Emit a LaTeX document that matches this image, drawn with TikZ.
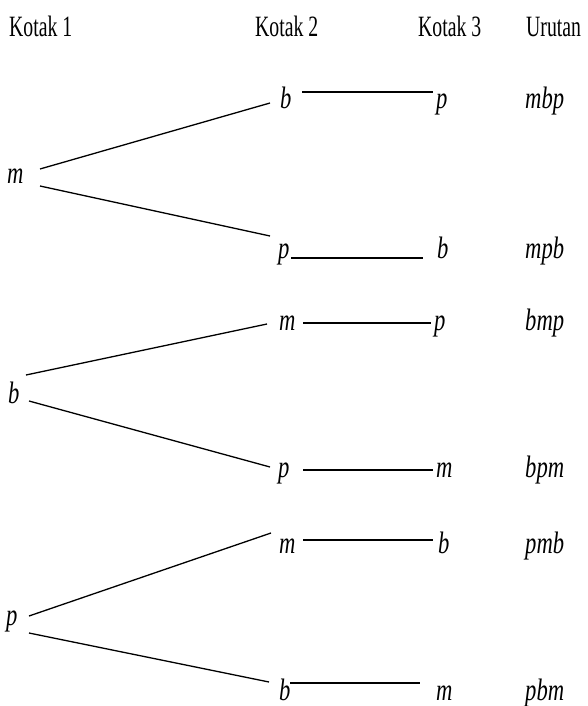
\documentclass[tikz,border=0pt]{standalone}
\usepackage{fontspec}
\setmainfont{Liberation Serif}[FakeStretch=0.67]
\newfontfamily\itfam{Liberation Serif}[FakeStretch=0.73]
\begin{document}
\begin{tikzpicture}[x=1pt,y=-1pt,
  lbl/.style={anchor=base west, inner sep=0pt, font=\itfam\itshape\fontsize{31}{36}\selectfont},
  hdr/.style={anchor=base west, inner sep=0pt, font=\fontsize{29.5}{35}\selectfont},
  ln/.style={line width=1.3pt}]
\useasboundingbox (0,0) rectangle (587,706);
% headers
\node[hdr] (h1) at (9,37) {Kotak 1};
\node[hdr] (h2) at (255,37) {Kotak 2};
\node[hdr] (h3) at (418,37) {Kotak 3};
\node[hdr] (h4) at (526,37) {Urutan};
% Kotak 1
\node[lbl] (k1m) at (7,183) {m};
\node[lbl] (k1b) at (8,403) {b};
\node[lbl] (k1p) at (6,625) {p};
% Kotak 2
\node[lbl] (k2b1) at (280,109) {b};
\node[lbl] (k2p2) at (278,258) {p};
\node[lbl] (k2m3) at (279,330) {m};
\node[lbl] (k2p4) at (278,477) {p};
\node[lbl] (k2m5) at (279,553) {m};
\node[lbl] (k2b6) at (279,700) {b};
% Kotak 3
\node[lbl] (k3p1) at (436,109) {p};
\node[lbl] (k3b2) at (437,258) {b};
\node[lbl] (k3p3) at (434,330) {p};
\node[lbl] (k3m4) at (436,477) {m};
\node[lbl] (k3b5) at (438,553) {b};
\node[lbl] (k3m6) at (436,700) {m};
% Urutan
\node[lbl] (u1) at (525,109) {mbp};
\node[lbl] (u2) at (525,258) {mpb};
\node[lbl] (u3) at (525,330) {bmp};
\node[lbl] (u4) at (525,477) {bpm};
\node[lbl] (u5) at (525,553) {pmb};
\node[lbl] (u6) at (525,700) {pbm};
% branches from Kotak 1 to Kotak 2
\draw[ln] ([shift={(33,-14)}]k1m.base west) -- ([shift={(-10,-6)}]k2b1.base west);
\draw[ln] ([shift={(33,3)}]k1m.base west) -- ([shift={(-8,-22)}]k2p2.base west);
\draw[ln] ([shift={(18,-28)}]k1b.base west) -- ([shift={(-12,-6)}]k2m3.base west);
\draw[ln] ([shift={(21,-2)}]k1b.base west) -- ([shift={(-8,-10)}]k2p4.base west);
\draw[ln] ([shift={(23,-9)}]k1p.base west) -- ([shift={(-8,-20)}]k2m5.base west);
\draw[ln] ([shift={(23,8)}]k1p.base west) -- ([shift={(-10,-18)}]k2b6.base west);
% Kotak 2 to Kotak 3
\draw[ln] ([shift={(22,-17)}]k2b1.base west) -- ([shift={(-3,-17)}]k3p1.base west);
\draw[ln] ([shift={(13,0)}]k2p2.base west) -- ([shift={(-14,0)}]k3b2.base west);
\draw[ln] ([shift={(24,-7)}]k2m3.base west) -- ([shift={(-3,-7)}]k3p3.base west);
\draw[ln] ([shift={(25,-7)}]k2p4.base west) -- ([shift={(-3,-7)}]k3m4.base west);
\draw[ln] ([shift={(24,-13)}]k2m5.base west) -- ([shift={(-5,-13)}]k3b5.base west);
\draw[ln] ([shift={(11,-17)}]k2b6.base west) -- ([shift={(-16,-17)}]k3m6.base west);
\end{tikzpicture}
\end{document}
